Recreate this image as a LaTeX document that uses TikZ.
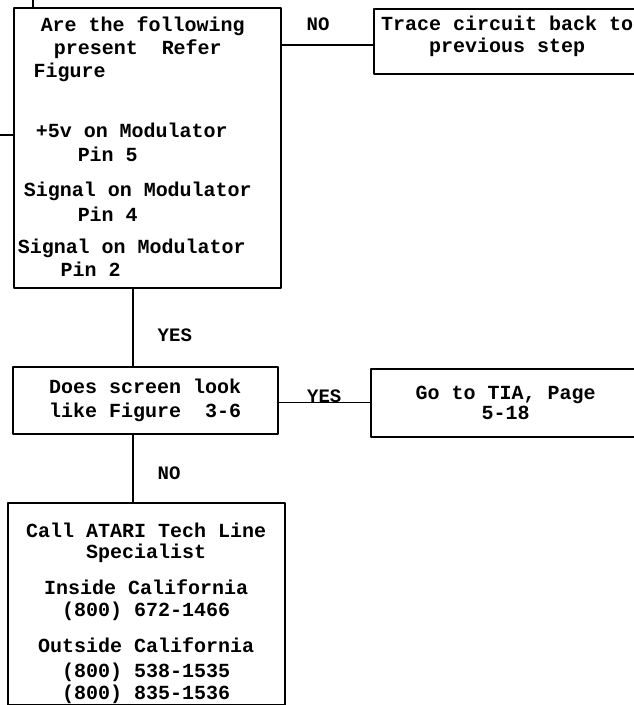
\documentclass[tikz,border=0pt]{standalone}
\usepackage{fontspec}
\newfontfamily\chartfont{Liberation Mono}
\usetikzlibrary{calc,positioning}
\newcommand\toptext[3]{\parbox[c][#2][t]{#1}{#3}}
\newcommand\firstline[1]{\rule{0pt}{#1}}
\tikzset{
  every picture/.append style={line cap=round,line join=round},
  chart box/.style={draw,line width=1.5pt,inner sep=0pt,anchor=north west,
    font=\chartfont\bfseries\fontsize{20}{23}\selectfont},
  chart line/.style={line width=1.4pt},
  chart label/.style={font=\chartfont\bfseries\fontsize{19}{22}\selectfont,inner sep=0pt}
}
\begin{document}
\begin{tikzpicture}[x=1pt,y=-1pt]
  \useasboundingbox (0,0) rectangle (634,705);
  % boxes
  \node[chart box,minimum width=267pt,minimum height=280pt] (present) at (13,7)
    {\toptext{267pt}{280pt}{\raggedright
      \hspace*{27pt}\firstline{24pt}Are the following\\
      \hspace*{40pt}present\ \ Refer\\
      \hspace*{20pt}Figure\\[37pt]
      \hspace*{22pt}+5v on Modulator\\[1pt]
      \hspace*{64pt}Pin 5\\[12pt]
      \hspace*{10pt}Signal on Modulator\\[2pt]
      \hspace*{64pt}Pin 4\\[9pt]
      \hspace*{4pt}Signal on Modulator\\
      \hspace*{47pt}Pin 2}};
  \node[chart box,minimum width=267pt,minimum height=65pt] (trace) at (373,8)
    {\toptext{267pt}{65pt}{\centering
      \firstline{22pt}Trace circuit back to\\[-1pt]
      previous step}};
  \node[chart box,align=center,minimum width=265pt,minimum height=67pt] (screen) at (12,366)
    {Does screen look\\[1pt]like Figure\ \ 3-6};
  \node[chart box,align=center,minimum width=270pt,minimum height=68pt] (tia) at (370,368)
    {Go to TIA, Page\\[-3pt]5-18};
  \node[chart box,minimum width=277pt,minimum height=202pt] (call) at (7,502)
    {\toptext{277pt}{202pt}{\centering
      \firstline{35pt}Call ATARI Tech Line\\[-2pt]
      Specialist\\[13pt]
      Inside California\\[-1pt]
      (800) 672-1466\\[13pt]
      Outside California\\[2pt]
      (800) 538-1535\\[-1pt]
      (800) 835-1536}};
  % connectors
  \coordinate (spine) at (133,0);
  \coordinate (feed) at (0,135);
  \coordinate (tick) at (33,0);
  \coordinate (noout) at ($(present.north east)+(0,38)$);
  \draw[chart line,line width=2pt] (feed) -- (feed -| present.west);
  \draw[chart line] (tick) -- (tick |- present.north);
  \draw[chart line] (noout) -- (noout -| trace.west)
    node[chart label,pos=0.4,above=14pt] {NO};
  \draw[chart line] (present.south -| spine) -- (screen.north -| spine)
    node[chart label,pos=0.6,right=24pt] {YES};
  \draw[chart line] (screen.east |- tia.west) -- (tia.west)
    node[chart label,midway,above=-1pt] {YES};
  \draw[chart line] (screen.south -| spine) -- (call.north -| spine)
    node[chart label,pos=0.58,right=24pt] {NO};
\end{tikzpicture}
\end{document}
